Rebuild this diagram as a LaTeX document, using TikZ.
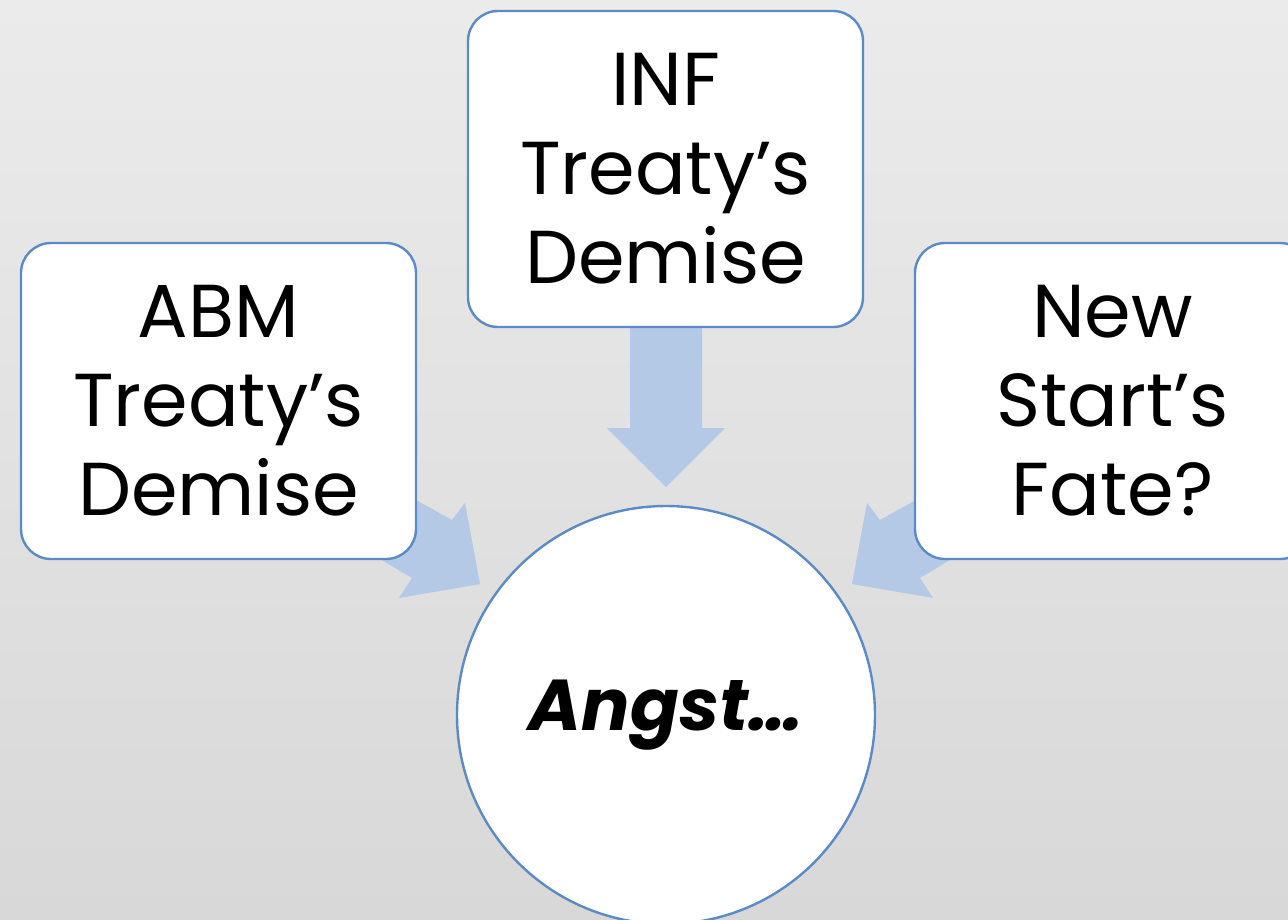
\documentclass[tikz,border=0pt]{standalone}
\usepackage{fontspec}
\setmainfont{Poppins}
\begin{document}
\begin{tikzpicture}[x=1pt,y=-1pt,
  box/.style={draw=bordblue,line width=2.4pt,fill=white,rounded corners=30pt,minimum width=395pt,minimum height=316pt,inner sep=0pt,align=center,font=\fontsize{75}{89}\selectfont},
  blockarrow/.style={fill=arrblue,draw=none}]
\definecolor{bordblue}{HTML}{5A8BC6}
\definecolor{arrblue}{HTML}{B4C9E6}
\definecolor{bgtop}{HTML}{EBEBEB}
\definecolor{bgbot}{HTML}{D8D8D8}
\useasboundingbox (0,0) rectangle (1288,919);
\clip (0,0) rectangle (1288,919);
\shade[top color=bgtop,bottom color=bgbot] (0,0) rectangle (1288,919);
% arrows
\fill[blockarrow] (630,320) -- (702,320) -- (702,428) -- (725,428) -- (666,487) -- (607,428) -- (630,428) -- cycle;
\fill[blockarrow] (380,480) -- (452,520) -- (465,503) -- (480,584) -- (399,598) -- (412,578) -- (340,535) -- cycle;
\fill[blockarrow] (952,480) -- (880,520) -- (867,503) -- (852,584) -- (933,598) -- (920,578) -- (992,535) -- cycle;
% nodes
\node[box] (abm) at (218.5,401) {ABM\\Treaty’s\\Demise};
\node[box] (inf) at (665.5,169) {INF\\Treaty’s\\Demise};
\node[box] (new) at (1112.5,401) {New\\Start’s\\Fate?};
\node[circle,draw=bordblue,line width=2.4pt,fill=white,minimum size=418pt,inner sep=0pt,font=\fontsize{72}{80}\selectfont\bfseries\itshape] (angst) at (666,715) {Angst…};
\end{tikzpicture}
\end{document}
